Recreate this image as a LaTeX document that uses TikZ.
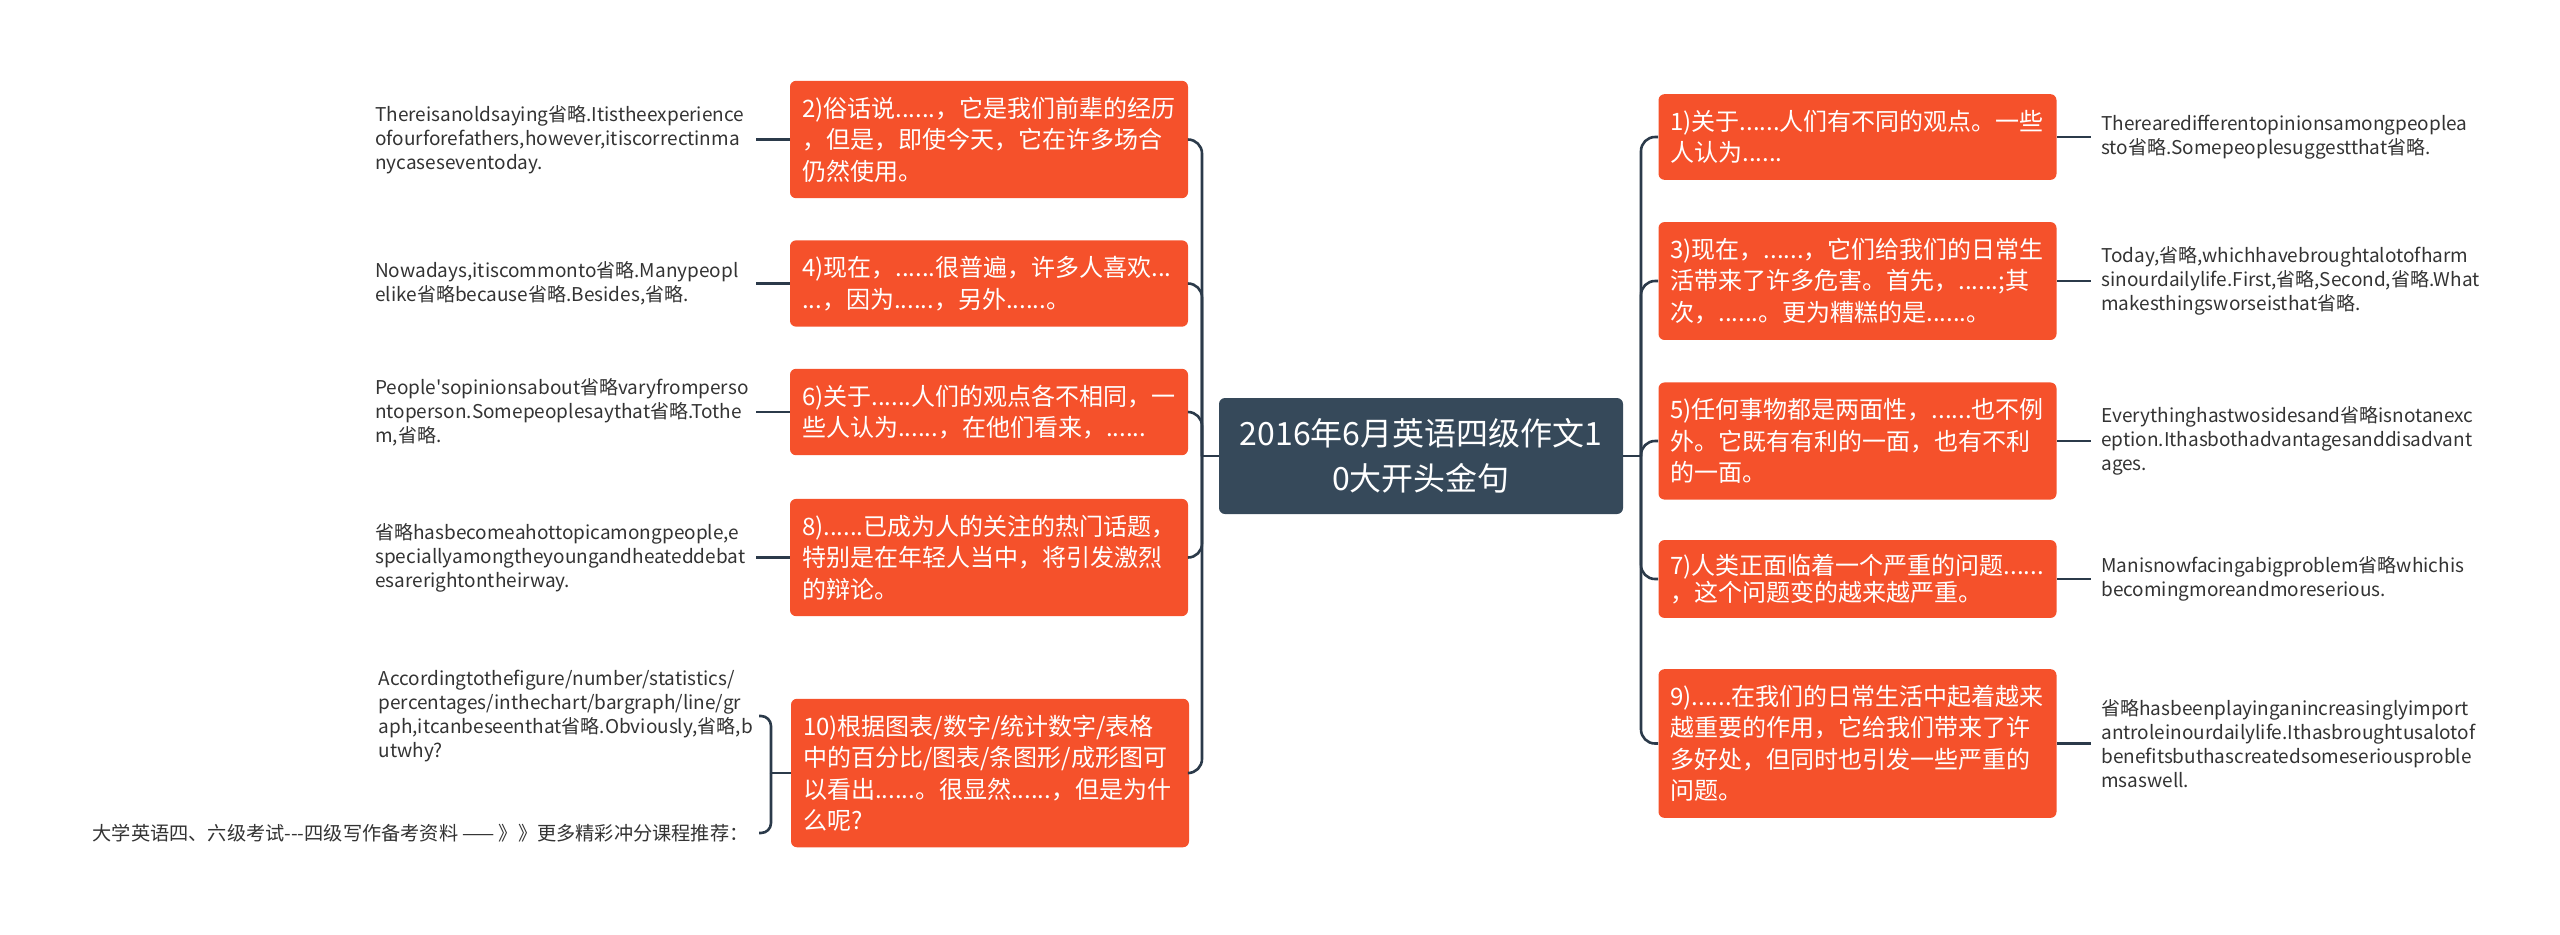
\documentclass[tikz,border=0pt]{standalone}
\usepackage{fontspec}
\newfontfamily\cjk{Noto Sans CJK SC}
\usepackage{tikz}
\usetikzlibrary{positioning}
\definecolor{hubfill}{HTML}{36495A}
\definecolor{twigfill}{HTML}{F5512B}
\definecolor{wire}{HTML}{2B3A4A}
\definecolor{leafink}{HTML}{333333}

\begin{document}
\begin{tikzpicture}[x=0.5pt, y=-0.5pt,
    hub/.style={fill=hubfill, rounded corners=3pt, text=white, align=center,
                minimum width=202pt, minimum height=58pt,
                font=\cjk\fontsize{16pt}{22.5pt}\selectfont},
    twig/.style={fill=twigfill, rounded corners=3pt, text=white, align=left,
                 text width=187pt, inner xsep=6pt, inner ysep=8pt,
                 font=\cjk\fontsize{12pt}{15.75pt}\selectfont},
    leaf/.style={text=leafink, align=left, text width=185pt, inner xsep=5pt,
                 font=\cjk\fontsize{9.5pt}{12pt}\selectfont},
    tail/.style={text=leafink, inner xsep=5pt,
                 font=\cjk\fontsize{9.6pt}{12pt}\selectfont},
    conn/.style={draw=wire, line width=1.3pt},
    node distance=17pt
  ]
  \useasboundingbox (0,0) rectangle (2560,934);

  % ── Mitte ──
  \node[hub] (root) at (1421,456) {2016年6月英语四级作文1\\0大开头金句};
  \coordinate (trunkL) at (1202,456);
  \coordinate (trunkR) at (1641,456);

  % ── linke Seite: 2,4,6,8,10 ──
  \node[twig] (b2) at (989,139.5)
    {2)俗话说......，它是我们前辈的经历\\，但是，即使今天，它在许多场合\\仍然使用。};
  \node[twig] (b4) at (989,283.5)
    {4)现在，......很普遍，许多人喜欢...\\...，因为......，另外......。};
  \node[twig] (b6) at (989,412)
    {6)关于......人们的观点各不相同，一\\些人认为......，在他们看来，......};
  \node[twig] (b8) at (989,557.5)
    {8)......已成为人的关注的热门话题，\\特别是在年轻人当中，将引发激烈\\的辩论。};
  \node[twig] (b10) at (990,773)
    {10)根据图表/数字/统计数字/表格\\中的百分比/图表/条图形/成形图可\\以看出......。很显然......，但是为什\\么呢?};

  \node[leaf, left=of b2] (n2)
    {Thereisanoldsaying省略.Itistheexperience\\ofourforefathers,however,itiscorrectinma\\nycaseseventoday.};
  \node[leaf, left=of b4] (n4)
    {Nowadays,itiscommonto省略.Manypeopl\\elike省略because省略.Besides,省略.};
  \node[leaf, left=of b6] (n6)
    {People'sopinionsabout省略varyfromperso\\ntoperson.Somepeoplesaythat省略.Tothe\\m,省略.};
  \node[leaf, left=of b8] (n8)
    {省略hasbecomeahottopicamongpeople,e\\speciallyamongtheyoungandheateddebat\\esarerightontheirway.};
  \node[leaf, anchor=east] (n10) at (759,716)
    {Accordingtothefigure/number/statistics/\\percentages/inthechart/bargraph/line/gr\\aph,itcanbeseenthat省略.Obviously,省略,b\\utwhy?};
  \node[tail, anchor=east] (extra) at (759,833)
    {大学英语四、六级考试---四级写作备考资料 —— 》》更多精彩冲分课程推荐：};
  \coordinate (forkB) at (771,773);

  % ── rechte Seite: 1,3,5,7,9 ──
  \node[twig] (b1) at (1857.5,137)
    {1)关于......人们有不同的观点。一些\\人认为......};
  \node[twig] (b3) at (1857.5,281)
    {3)现在，......，它们给我们的日常生\\活带来了许多危害。首先，......;其\\次，......。更为糟糕的是......。};
  \node[twig] (b5) at (1857.5,441)
    {5)任何事物都是两面性，......也不例\\外。它既有有利的一面，也有不利\\的一面。};
  \node[twig, inner ysep=7pt, font=\cjk\fontsize{12pt}{13.5pt}\selectfont] (b7) at (1857.5,579)
    {7)人类正面临着一个严重的问题......\\，这个问题变的越来越严重。};
  \node[twig] (b9) at (1857.5,743.5)
    {9)......在我们的日常生活中起着越来\\越重要的作用，它给我们带来了许\\多好处，但同时也引发一些严重的\\问题。};

  \node[leaf, right=of b1] (n1)
    {Therearedifferentopinionsamongpeoplea\\sto省略.Somepeoplesuggestthat省略.};
  \node[leaf, right=of b3] (n3)
    {Today,省略,whichhavebroughtalotofharm\\sinourdailylife.First,省略,Second,省略.What\\makesthingsworseisthat省略.};
  \node[leaf, right=of b5] (n5)
    {Everythinghastwosidesand省略isnotanexc\\eption.Ithasbothadvantagesanddisadvant\\ages.};
  \node[leaf, right=of b7] (n7)
    {Manisnowfacingabigproblem省略whichis\\becomingmoreandmoreserious.};
  \node[leaf, right=of b9] (n9)
    {省略hasbeenplayinganincreasinglyimport\\antroleinourdailylife.Ithasbroughtusalotof\\benefitsbuthascreatedsomeseriousproble\\msaswell.};

  % ── Verbindungen ──
  \draw[conn] (root.west) -- (trunkL);
  \draw[conn] (root.east) -- (trunkR);
  \foreach \b in {b2,b4,b6,b8,b10}
    \draw[conn, rounded corners=7pt] (trunkL) |- (\b.east);
  \foreach \b in {b1,b3,b5,b7,b9}
    \draw[conn, rounded corners=7pt] (trunkR) |- (\b.west);

  \foreach \a/\b in {b2/n2, b4/n4, b6/n6, b8/n8}
    \draw[conn] (\a.west) -- (\b.east);
  \foreach \a/\b in {b1/n1, b3/n3, b5/n5, b7/n7, b9/n9}
    \draw[conn] (\a.east) -- (\b.west);

  \draw[conn] (b10.west) -- (forkB);
  \draw[conn, rounded corners=5pt] (forkB) |- (n10.east);
  \draw[conn, rounded corners=5pt] (forkB) |- (extra.east);
\end{tikzpicture}
\end{document}
